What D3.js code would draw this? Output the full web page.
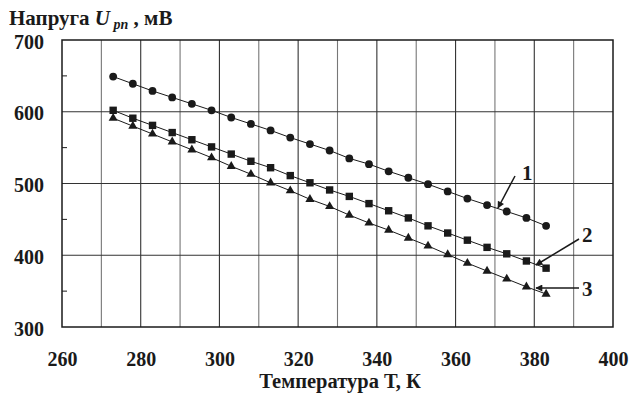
<!DOCTYPE html>
<html><head><meta charset="utf-8">
<script src="https://cdn.jsdelivr.net/npm/d3@7"></script>
<style>
body{margin:0;background:#fff}
svg{display:block}
svg text, svg tspan{font-family:"Liberation Serif","Tinos","FreeSerif","Times New Roman",serif !important;font-weight:bold !important;}
</style>
</head><body>
<script>
const temps = [273,278,283,288,293,298,303,308,313,318,323,328,333,338,343,348,353,358,363,368,373,378,383];
const series1 = [649,639,629,620,611,602,592,583,574,564,555,546,535,527,517,508,499,489,479,470,461,452,441];
const series2 = [602,591,581,571,561,551,541,531,522,511,501,491,482,472,462,452,441,431,421,411,402,392,382];
const series3 = [591,580,569,558,547,536,524,513,501,490,478,468,456,445,435,424,413,401,389,378,367,356,346];
const xTicks = [260,280,300,320,340,360,380,400];
const yTicks = [300,400,500,600,700];
const xGrid = [270,280,290,300,310,320,330,340,350,360,370,380,390];
const yMinor = [350,450,550,650];
const labels = ["1","2","3"];

const FONT='"Liberation Serif", "Tinos", "FreeSerif", serif';
const W=630,H=395;
const svg=d3.select("body").append("svg").attr("width",W).attr("height",H)
  .style("font-family",FONT);
const x=d3.scaleLinear().domain([260,400]).range([62,613]);
const y=d3.scaleLinear().domain([300,700]).range([327,40]);
const ink="#1a1a1a";
function tstyle(sel,size){
  return sel.attr("font-family",null).style("font-family",FONT).style("font-weight","bold").style("font-size",size+"px").attr("fill",ink);
}

// grid
svg.append("g").selectAll("line").data(xGrid).join("line")
  .attr("x1",d=>x(d)).attr("x2",d=>x(d)).attr("y1",y(700)).attr("y2",y(300))
  .attr("stroke",d=>d%20===0?"#333":"#777").attr("stroke-width",1.1);
svg.append("g").selectAll("line").data(yTicks.filter(d=>d>300&&d<700)).join("line")
  .attr("x1",x(260)).attr("x2",x(400)).attr("y1",d=>y(d)).attr("y2",d=>y(d))
  .attr("stroke","#333").attr("stroke-width",1.1);
svg.append("g").selectAll("line").data(yMinor).join("line")
  .attr("x1",x(260)).attr("x2",x(260)+5).attr("y1",d=>y(d)).attr("y2",d=>y(d))
  .attr("stroke",ink).attr("stroke-width",1);
svg.append("rect").attr("x",x(260)).attr("y",y(700)).attr("width",x(400)-x(260)).attr("height",y(300)-y(700))
  .attr("fill","none").attr("stroke",ink).attr("stroke-width",1.5);

// axes labels
const xAxis=d3.axisBottom(x).tickValues(xTicks).tickSize(0).tickPadding(25);
const gx=svg.append("g").attr("transform",`translate(0,${y(300)})`).call(xAxis);
gx.select(".domain").remove();
gx.attr("font-family",null).attr("font-size",null);
tstyle(gx.selectAll("text"),20);
const yAxis=d3.axisLeft(y).tickValues(yTicks).tickSize(0).tickPadding(18);
const gy=svg.append("g").attr("transform",`translate(${x(260)},0)`).call(yAxis);
gy.select(".domain").remove();
gy.attr("font-family",null).attr("font-size",null);
tstyle(gy.selectAll("text"),20).attr("dy","0.4em");

// series
const line=d3.line().x((d,i)=>x(temps[i])).y(d=>y(d));
[series1,series2,series3].forEach(s=>{
  svg.append("path").attr("d",line(s)).attr("fill","none").attr("stroke",ink).attr("stroke-width",1);
});
svg.append("g").selectAll("circle").data(series1).join("circle")
  .attr("cx",(d,i)=>x(temps[i])).attr("cy",d=>y(d)).attr("r",3.9).attr("fill",ink);
svg.append("g").selectAll("rect").data(series2).join("rect")
  .attr("x",(d,i)=>x(temps[i])-3.7).attr("y",d=>y(d)-3.7).attr("width",7.4).attr("height",7.4).attr("fill",ink);
const tri=d3.symbol().type(d3.symbolTriangle).size(36);
svg.append("g").selectAll("path").data(series3).join("path")
  .attr("d",tri).attr("transform",(d,i)=>`translate(${x(temps[i])},${y(d)})`).attr("fill",ink);

// annotations
const defs=svg.append("defs");
defs.append("marker").attr("id","ah").attr("viewBox","0 0 10 10").attr("refX",9).attr("refY",5)
  .attr("markerWidth",9).attr("markerHeight",7).attr("markerUnits","userSpaceOnUse").attr("orient","auto")
  .append("path").attr("d","M0,0L10,5L0,10z").attr("fill",ink);
const ann=[
  {t:labels[0],tx:522,ty:180,x1:515,y1:176,x2:498,y2:208},
  {t:labels[1],tx:582,ty:242,x1:579,y1:239,x2:536,y2:265},
  {t:labels[2],tx:582,ty:296,x1:579,y1:288,x2:536,y2:288}
];
ann.forEach(a=>{
  svg.append("line").attr("x1",a.x1).attr("y1",a.y1).attr("x2",a.x2).attr("y2",a.y2)
    .attr("stroke",ink).attr("stroke-width",1.5).attr("marker-end","url(#ah)");
  tstyle(svg.append("text").attr("x",a.tx).attr("y",a.ty),21).text(a.t);
});

// titles
const tt=tstyle(svg.append("text").attr("x",9).attr("y",25),21);
tt.append("tspan").text("Напруга ");
tt.append("tspan").style("font-style","italic").text("U");
tt.append("tspan").style("font-style","italic").style("font-size","14px").attr("dy",4).text(" pn");
tt.append("tspan").attr("dy",-4).text(" , мВ");
tstyle(svg.append("text").attr("x",340).attr("y",388).attr("text-anchor","middle"),20.5).text("Температура Т, К");
</script>
</body></html>
